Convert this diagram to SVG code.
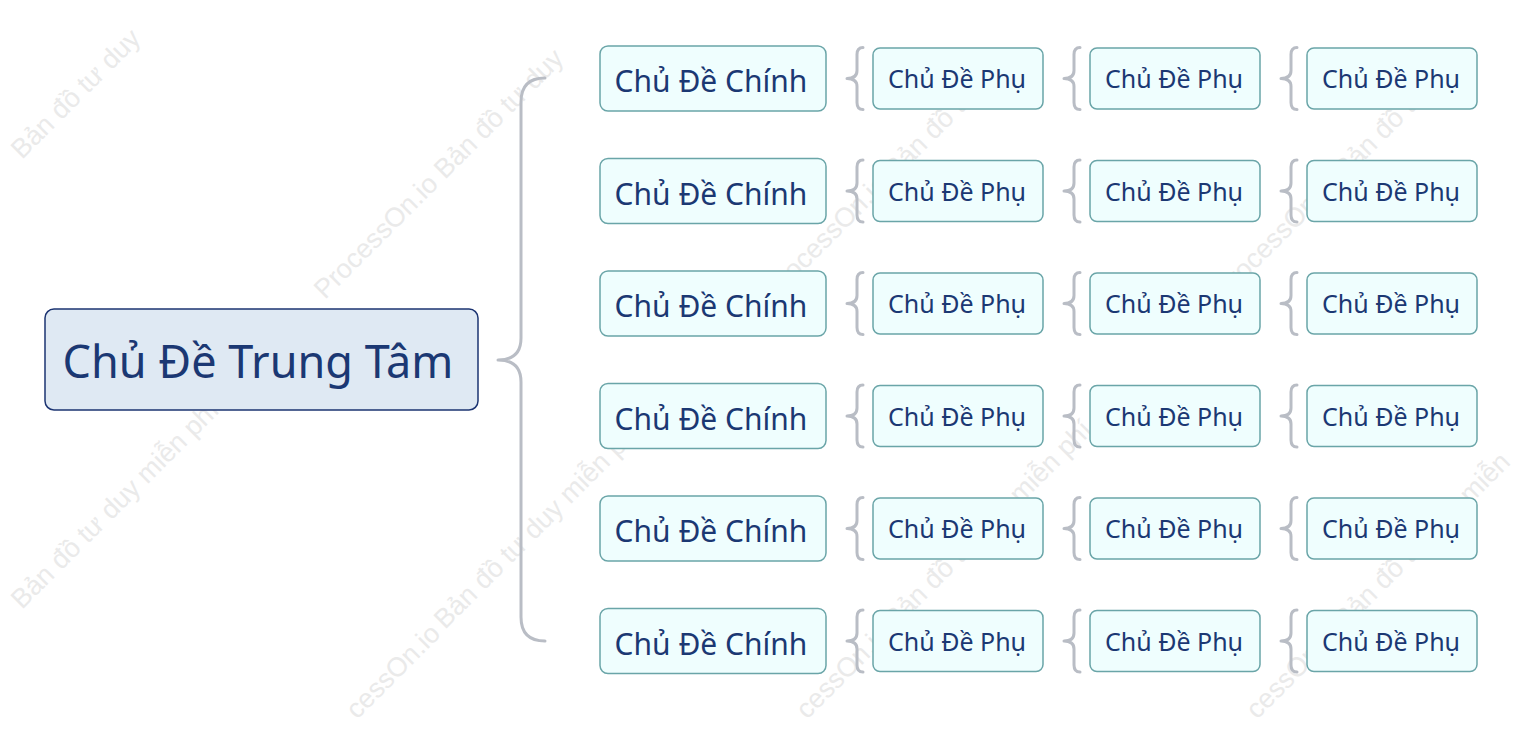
<svg xmlns="http://www.w3.org/2000/svg" xmlns:xlink="http://www.w3.org/1999/xlink" width="1523" height="735" viewBox="0 0 1523 735">
<style>
.root rect{fill:#dfe9f3;stroke:#1c3472;stroke-width:1.5}
.main rect{fill:#effefe;stroke:#6aa5a8;stroke-width:1.5}
.sub rect{fill:#effefe;stroke:#6aa5a8;stroke-width:1.5}
text.t{font-family:"Noto Sans","Open Sans",sans-serif;fill:#1b3873;text-anchor:middle}
.root text{font-size:45px}
.main text{font-size:30px}
.sub text{font-size:25px}
.br{fill:none;stroke:#b9bdc5;stroke-width:3;stroke-linecap:round;stroke-linejoin:round}
.wm{font-family:"Liberation Sans",Arial,sans-serif;font-size:27px;fill:#eaeaea}
</style>
<defs>
<path id="sb" class="br" d="M16,-31 Q10,-31 10,-24 L10,-8 Q10,0 0,0 Q10,0 10,8 L10,24 Q10,31 16,31"/>
</defs>
<rect width="1523" height="735" fill="#fff"/>
<g id="watermark" class="wm">
<text transform="translate(22,160) rotate(-45)">Bản đồ tư duy</text>
<text transform="translate(325,300) rotate(-45)">ProcessOn.io</text>
<text transform="translate(445,180) rotate(-45)">Bản đồ tư duy</text>
<text transform="translate(775,300) rotate(-45)">ProcessOn.io</text>
<text transform="translate(895,180) rotate(-45)">Bản đồ tư duy</text>
<text transform="translate(1225,300) rotate(-45)">ProcessOn.io</text>
<text transform="translate(1345,180) rotate(-45)">Bản đồ tư duy</text>
<text transform="translate(22,610) rotate(-45)">Bản đồ tư duy miễn phí</text>
<text transform="translate(357,720) rotate(-45)">cessOn.io</text>
<text transform="translate(445,630) rotate(-45)">Bản đồ tư duy miễn phí</text>
<text transform="translate(807,720) rotate(-45)">cessOn.io</text>
<text transform="translate(895,630) rotate(-45)">Bản đồ tư duy miễn phí</text>
<text transform="translate(1257,720) rotate(-45)">cessOn.io</text>
<text transform="translate(1345,630) rotate(-45)">Bản đồ tư duy miễn</text>
</g>
<g id="connectors">
<path class="br" d="M545,78 Q521,78 521,102 L521,338 Q521,360 498,360 Q521,360 521,382 L521,617 Q521,641 545,641"/>
<use xlink:href="#sb" x="847" y="78.5"/><use xlink:href="#sb" x="1064" y="78.5"/><use xlink:href="#sb" x="1281" y="78.5"/>
<use xlink:href="#sb" x="847" y="191"/><use xlink:href="#sb" x="1064" y="191"/><use xlink:href="#sb" x="1281" y="191"/>
<use xlink:href="#sb" x="847" y="303.5"/><use xlink:href="#sb" x="1064" y="303.5"/><use xlink:href="#sb" x="1281" y="303.5"/>
<use xlink:href="#sb" x="847" y="416"/><use xlink:href="#sb" x="1064" y="416"/><use xlink:href="#sb" x="1281" y="416"/>
<use xlink:href="#sb" x="847" y="528.5"/><use xlink:href="#sb" x="1064" y="528.5"/><use xlink:href="#sb" x="1281" y="528.5"/>
<use xlink:href="#sb" x="847" y="641"/><use xlink:href="#sb" x="1064" y="641"/><use xlink:href="#sb" x="1281" y="641"/>
</g>
<g id="root" class="root"><rect x="45" y="309" width="433" height="101" rx="9"/><text class="t" x="258" y="378">Chủ Đề Trung Tâm</text></g>

<g id="main1" class="main"><rect x="600" y="46" width="226" height="65" rx="8"/><text class="t" x="711" y="92">Chủ Đề Chính</text></g>
<g id="main2" class="main"><rect x="600" y="158.5" width="226" height="65" rx="8"/><text class="t" x="711" y="204.5">Chủ Đề Chính</text></g>
<g id="main3" class="main"><rect x="600" y="271" width="226" height="65" rx="8"/><text class="t" x="711" y="317">Chủ Đề Chính</text></g>
<g id="main4" class="main"><rect x="600" y="383.5" width="226" height="65" rx="8"/><text class="t" x="711" y="429.5">Chủ Đề Chính</text></g>
<g id="main5" class="main"><rect x="600" y="496" width="226" height="65" rx="8"/><text class="t" x="711" y="542">Chủ Đề Chính</text></g>
<g id="main6" class="main"><rect x="600" y="608.5" width="226" height="65" rx="8"/><text class="t" x="711" y="654.5">Chủ Đề Chính</text></g>

<g id="sub1a" class="sub"><rect x="873" y="48" width="170" height="61" rx="7"/><text class="t" x="957" y="88">Chủ Đề Phụ</text></g>
<g id="sub1b" class="sub"><rect x="1090" y="48" width="170" height="61" rx="7"/><text class="t" x="1174" y="88">Chủ Đề Phụ</text></g>
<g id="sub1c" class="sub"><rect x="1307" y="48" width="170" height="61" rx="7"/><text class="t" x="1391" y="88">Chủ Đề Phụ</text></g>
<g id="sub2a" class="sub"><rect x="873" y="160.5" width="170" height="61" rx="7"/><text class="t" x="957" y="200.5">Chủ Đề Phụ</text></g>
<g id="sub2b" class="sub"><rect x="1090" y="160.5" width="170" height="61" rx="7"/><text class="t" x="1174" y="200.5">Chủ Đề Phụ</text></g>
<g id="sub2c" class="sub"><rect x="1307" y="160.5" width="170" height="61" rx="7"/><text class="t" x="1391" y="200.5">Chủ Đề Phụ</text></g>
<g id="sub3a" class="sub"><rect x="873" y="273" width="170" height="61" rx="7"/><text class="t" x="957" y="313">Chủ Đề Phụ</text></g>
<g id="sub3b" class="sub"><rect x="1090" y="273" width="170" height="61" rx="7"/><text class="t" x="1174" y="313">Chủ Đề Phụ</text></g>
<g id="sub3c" class="sub"><rect x="1307" y="273" width="170" height="61" rx="7"/><text class="t" x="1391" y="313">Chủ Đề Phụ</text></g>
<g id="sub4a" class="sub"><rect x="873" y="385.5" width="170" height="61" rx="7"/><text class="t" x="957" y="425.5">Chủ Đề Phụ</text></g>
<g id="sub4b" class="sub"><rect x="1090" y="385.5" width="170" height="61" rx="7"/><text class="t" x="1174" y="425.5">Chủ Đề Phụ</text></g>
<g id="sub4c" class="sub"><rect x="1307" y="385.5" width="170" height="61" rx="7"/><text class="t" x="1391" y="425.5">Chủ Đề Phụ</text></g>
<g id="sub5a" class="sub"><rect x="873" y="498" width="170" height="61" rx="7"/><text class="t" x="957" y="538">Chủ Đề Phụ</text></g>
<g id="sub5b" class="sub"><rect x="1090" y="498" width="170" height="61" rx="7"/><text class="t" x="1174" y="538">Chủ Đề Phụ</text></g>
<g id="sub5c" class="sub"><rect x="1307" y="498" width="170" height="61" rx="7"/><text class="t" x="1391" y="538">Chủ Đề Phụ</text></g>
<g id="sub6a" class="sub"><rect x="873" y="610.5" width="170" height="61" rx="7"/><text class="t" x="957" y="650.5">Chủ Đề Phụ</text></g>
<g id="sub6b" class="sub"><rect x="1090" y="610.5" width="170" height="61" rx="7"/><text class="t" x="1174" y="650.5">Chủ Đề Phụ</text></g>
<g id="sub6c" class="sub"><rect x="1307" y="610.5" width="170" height="61" rx="7"/><text class="t" x="1391" y="650.5">Chủ Đề Phụ</text></g>
</svg>
